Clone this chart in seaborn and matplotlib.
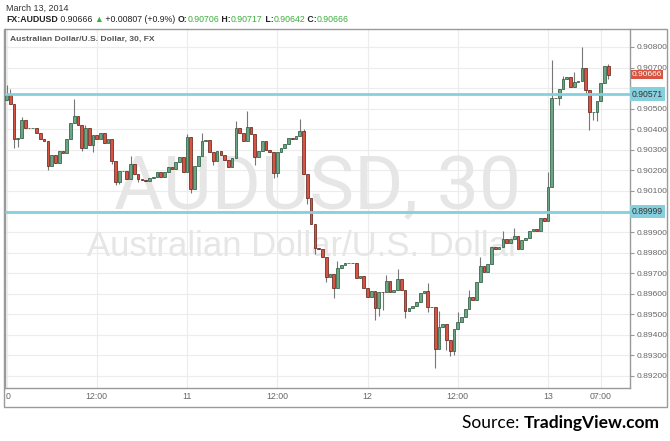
import matplotlib
matplotlib.use("Agg")
import matplotlib.pyplot as plt
from matplotlib.patches import Rectangle
from matplotlib.transforms import Bbox
import seaborn as sns

# AUD/USD 30-minute candles, 10-13 March 2014
closes = [
    0.90567, 0.90523, 0.90353, 0.90357, 0.90445, 0.90406, 0.90404, 0.90408, 0.90382, 0.90353,
    0.90343, 0.90221, 0.90275, 0.90236, 0.90294, 0.90284, 0.90353, 0.90430, 0.90464, 0.90421,
    0.90309, 0.90406, 0.90323, 0.90372, 0.90353, 0.90382, 0.90333, 0.90353, 0.90246, 0.90143,
    0.90197, 0.90195, 0.90158, 0.90231, 0.90182, 0.90158, 0.90153, 0.90148, 0.90163, 0.90168,
    0.90192, 0.90168, 0.90192, 0.90216, 0.90207, 0.90241, 0.90265, 0.90192, 0.90362, 0.90109,
    0.90221, 0.90270, 0.90343, 0.90348, 0.90289, 0.90246, 0.90294, 0.90275, 0.90250, 0.90216,
    0.90260, 0.90406, 0.90382, 0.90343, 0.90411, 0.90377, 0.90265, 0.90294, 0.90343, 0.90299,
    0.90289, 0.90187, 0.90289, 0.90309, 0.90328, 0.90357, 0.90353, 0.90367, 0.90391, 0.90182,
    0.90066, 0.89939, 0.89822, 0.89817, 0.89779, 0.89681, 0.89696, 0.89628, 0.89725, 0.89740,
    0.89749, 0.89751, 0.89749, 0.89676, 0.89686, 0.89628, 0.89584, 0.89613, 0.89531, 0.89608,
    0.89606, 0.89662, 0.89608, 0.89618, 0.89672, 0.89618, 0.89516, 0.89531, 0.89540, 0.89560,
    0.89603, 0.89613, 0.89535, 0.89533, 0.89331, 0.89438, 0.89453, 0.89375, 0.89321, 0.89428,
    0.89462, 0.89487, 0.89526, 0.89584, 0.89569, 0.89657, 0.89735, 0.89706, 0.89745, 0.89827,
    0.89817, 0.89827, 0.89866, 0.89847, 0.89866, 0.89881, 0.89817, 0.89861, 0.89871, 0.89905,
    0.89915, 0.89905, 0.89968, 0.89954, 0.90119, 0.90552, 0.90550, 0.90596, 0.90644, 0.90654,
    0.90605, 0.90630, 0.90635, 0.90698, 0.90591, 0.90484, 0.90486, 0.90537, 0.90625, 0.90706,
    0.90666,
]
first_open = 0.90542

# longer wicks (bar index -> price)
wick_high = {0: 0.90615, 1: 0.90596, 4: 0.90460, 18: 0.90547, 21: 0.90421, 33: 0.90270,
             48: 0.90377, 52: 0.90382, 61: 0.90440, 64: 0.90489, 78: 0.90450, 79: 0.90401,
             88: 0.89759, 101: 0.89691, 104: 0.89720, 112: 0.89652, 115: 0.89516,
             120: 0.89511, 123: 0.89618, 126: 0.89779, 132: 0.89905, 135: 0.89920,
             144: 0.90190, 145: 0.90737, 148: 0.90660, 151: 0.90680, 153: 0.90800,
             160: 0.90717}
wick_low = {2: 0.90309, 3: 0.90314, 11: 0.90200, 12: 0.90231, 20: 0.90294, 23: 0.90289,
            28: 0.90231, 29: 0.90129, 30: 0.90134, 35: 0.90143, 49: 0.90090, 55: 0.90226,
            66: 0.90226, 71: 0.90163, 72: 0.90168, 80: 0.90036, 82: 0.89793, 85: 0.89657,
            87: 0.89579, 98: 0.89472, 99: 0.89492, 100: 0.89521, 106: 0.89482,
            112: 0.89511, 114: 0.89239, 117: 0.89326, 118: 0.89297, 119: 0.89302,
            147: 0.90520, 154: 0.90570, 155: 0.90396, 156: 0.90445, 157: 0.90440,
            160: 0.90642}

level_lines = [0.90571, 0.89999]
last_price = 0.90666
price_ticks = [0.908, 0.907, 0.906, 0.905, 0.904, 0.903, 0.902, 0.901, 0.900,
               0.899, 0.898, 0.897, 0.896, 0.895, 0.894, 0.893, 0.892]
hidden_ticks = [0.906, 0.900]  # covered by the level tags
time_ticks = [0, 24, 48, 72, 96, 120, 144, 158]
time_labels = ["10", "12:00", "11", "12:00", "12", "12:00", "13", "07:00"]

sns.set_style("white")
plt.rcParams["font.family"] = ["Liberation Sans", "DejaVu Sans"]

up_fill, up_edge = "#6ba583", "#225437"
dn_fill, dn_edge = "#d75442", "#5b1a13"
green_txt = "#3cae3c"

W, H = 670, 441
fig = plt.figure(figsize=(W / 100, H / 100), dpi=100)
ax = fig.add_axes([5 / W, (H - 388) / H, 625 / W, 359 / H])

opens = [first_open] + closes[:-1]
xs = list(range(len(closes)))
for i in xs:
    o, c = opens[i], closes[i]
    hi = wick_high.get(i, max(o, c))
    lo = wick_low.get(i, min(o, c))
    ax.vlines(i, lo, hi, color="#777777", lw=0.8, zorder=3)
    up = c >= o
    ax.bar(i, max(abs(c - o), 0.000012), bottom=min(o, c), width=0.72,
           color=up_fill if up else dn_fill, edgecolor=up_edge if up else dn_edge,
           linewidth=0.5, zorder=4)

for lv in level_lines:
    ax.axhline(lv, color="#86cfdd", lw=2, zorder=5)

# watermark
ax.text(0.50, 0.555, "AUDUSD, 30", transform=ax.transAxes, ha="center", va="center",
        fontsize=54, family="Roboto", color="#e6e6e6", zorder=1)
ax.text(0.477, 0.393, "Australian Dollar/U.S. Dollar", transform=ax.transAxes,
        ha="center", va="center", fontsize=25, color="#e6e6e6", zorder=1)
ax.text(0.008, 0.97, "Australian Dollar/U.S. Dollar, 30, FX", transform=ax.transAxes,
        ha="left", va="center", fontsize=6.1, fontweight="bold", color="#555555", zorder=6)

ax.set_xlim(-0.4, 165.8)
ax.set_ylim(0.891414, 0.908875)
ax.set_yticks(price_ticks)
ax.set_yticklabels(["" if p in hidden_ticks else f"{p:.5f}" for p in price_ticks])
ax.yaxis.tick_right()
ax.set_xticks(time_ticks)
ax.set_xticklabels([])
ax.grid(True, color="#ececec", lw=0.8, zorder=0)
ax.set_axisbelow(True)
ax.tick_params(axis="y", labelsize=6.1, labelcolor="#666666", length=3, color="#999999",
               pad=2, right=True)
ax.tick_params(axis="x", length=0)
ax.spines["top"].set_visible(False)
for s in ["left", "bottom", "right"]:
    ax.spines[s].set_color("#999999")
    ax.spines[s].set_linewidth(1)

for pos, lab in zip(time_ticks, time_labels):
    t = ax.text(pos, -0.025, lab, transform=ax.get_xaxis_transform(), ha="center",
                va="center", fontsize=6.3, color="#666666")
    if pos == 0:
        t.set_clip_on(True)
        t.set_clip_box(Bbox.from_extents(5.5, 0, W, H))

# right-hand price tags
for lv in level_lines:
    ax.text(1.003, lv, f"{lv:.5f}", transform=ax.get_yaxis_transform(), ha="left",
            va="center", fontsize=6.2, color="#333333", zorder=10, clip_on=False,
            bbox=dict(boxstyle="square,pad=0.25", fc="#86cfdd", ec="none"))
ax.text(1.003, last_price, f"{last_price:.5f}", transform=ax.get_yaxis_transform(),
        ha="left", va="center", fontsize=6.0, color="white", zorder=10, clip_on=False,
        bbox=dict(boxstyle="square,pad=0.15", fc="#d75442", ec="none"))

# outer frame
fig.patches.append(Rectangle((4 / W, (H - 407) / H), 663 / W, 378 / H, fill=False,
                             ec="#9a9a9a", lw=1, transform=fig.transFigure))

# header
fig.text(6 / W, 1 - 8 / H, "March 13, 2014", fontsize=6.5, color="#333333", va="center")

renderer = fig.canvas.get_renderer()
parts = [("FX:AUDUSD", "bold", "#222222"), (" 0.90666 ", "normal", "#222222"),
         ("▲", "normal", green_txt), (" +0.00807 (+0.9%) ", "normal", "#222222"),
         ("O:", "bold", "#222222"), ("0.90706", "normal", green_txt),
         (" H:", "bold", "#222222"), ("0.90717", "normal", green_txt),
         (" L:", "bold", "#222222"), ("0.90642", "normal", green_txt),
         (" C:", "bold", "#222222"), ("0.90666", "normal", green_txt)]
x = 6
for txt, wt, col in parts:
    t = fig.text(x / W, 1 - 19 / H, txt, fontsize=6.3, fontweight=wt, color=col, va="center")
    x += t.get_window_extent(renderer).width

# source credit
t = fig.text(660 / W, 1 - 423 / H, "TradingView.com", fontsize=12.5, fontweight="bold",
             family="Lato", ha="right", va="center", color="black")
w = t.get_window_extent(renderer).width
fig.text((660 - w) / W, 1 - 423 / H, "Source: ", fontsize=12.5, family="Lato",
         ha="right", va="center", color="black")

fig.savefig("out.png", dpi=100)
